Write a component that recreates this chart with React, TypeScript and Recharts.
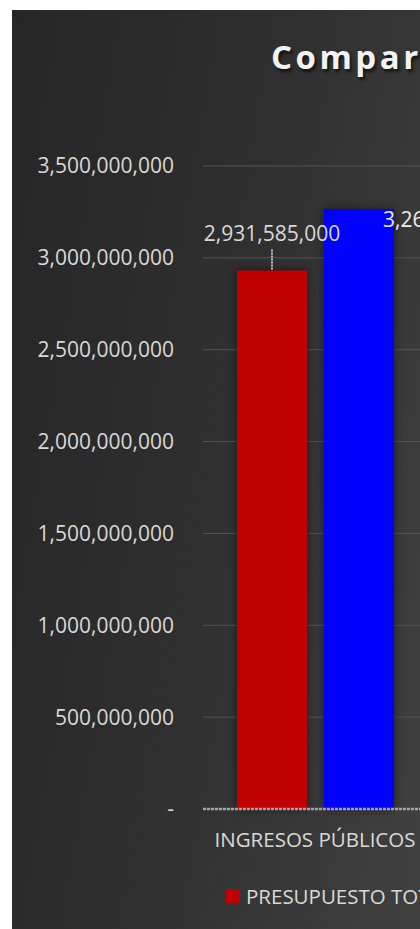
import React from 'react';
import { BarChart, Bar, XAxis, YAxis, CartesianGrid, Legend, LabelList } from 'recharts';

const categories = ['INGRESOS PÚBLICOS'];
const presupuestoTotal = [2931585000];
const ejecutado = [3264000000];
const yTicks = [0, 500000000, 1000000000, 1500000000, 2000000000, 2500000000, 3000000000, 3500000000];
const seriesNames = ['PRESUPUESTO TOTAL', 'EJECUTADO'];
const seriesColors = ['#c00000', '#0000ff'];

const data = categories.map((c, i) => ({
  category: c,
  presupuesto: presupuestoTotal[i],
  ejecutado: ejecutado[i],
}));

const FONT = '"Open Sans", sans-serif';
const fmt = (v: number) => (v === 0 ? '-' : v.toLocaleString('en-US'));

const RedLabel = (props: any) => {
  const { x, y, width, value } = props;
  const cx = x + width / 2;
  return (
    <g>
      <line x1={cx} x2={cx} y1={y - 21} y2={y} stroke="#bfbfbf" strokeWidth={2} strokeDasharray="2 1" />
      <text x={cx} y={y - 37} textAnchor="middle" dominantBaseline="central" fill="#d9d9d9" fontSize={21} fontFamily={FONT}>
        {fmt(value)}
      </text>
    </g>
  );
};

const BlueLabel = (props: any) => {
  const { x, y, width, value } = props;
  return (
    <text x={x + width - 11} y={y + 10} textAnchor="start" dominantBaseline="central" fill="#ececec" fontSize={21} fontFamily={FONT}>
      {fmt(value)}
    </text>
  );
};

const LegendContent = () => (
  <div style={{ display: 'flex', alignItems: 'center', fontFamily: FONT, fontSize: 20.5, color: '#d9d9d9', whiteSpace: 'nowrap' }}>
    {seriesNames.map((n, i) => (
      <div key={n} style={{ display: 'flex', alignItems: 'center', marginRight: 20 }}>
        <span style={{ display: 'inline-block', width: 14, height: 14, background: seriesColors[i], marginRight: 6 }} />
        <span>{n}</span>
      </div>
    ))}
  </div>
);

export default function App() {
  return (
    <div
      style={{
        position: 'absolute',
        left: 12,
        top: 10,
        width: 408,
        height: 919,
        overflow: 'hidden',
        background: 'linear-gradient(100deg, #262626 0%, #2e2e2e 45%, #404040 100%)',
      }}
    >
      <div
        style={{
          position: 'absolute',
          left: 259,
          top: 24,
          fontFamily: FONT,
          fontWeight: 700,
          fontSize: 33,
          lineHeight: 'normal',
          letterSpacing: 3.5,
          color: '#f2f2f2',
          whiteSpace: 'nowrap',
          textShadow: '2px 3px 3px rgba(0,0,0,0.6)',
        }}
      >
        Comparativo
      </div>
      <BarChart
        width={460}
        height={919}
        data={data}
        margin={{ top: 156, right: 45, left: 0, bottom: 32 }}
        barCategoryGap={33}
        barGap={17}
      >
        <CartesianGrid vertical={false} stroke="#555555" strokeWidth={1} />
        <XAxis
          dataKey="category"
          height={60}
          tickLine={false}
          tickSize={0}
          tickMargin={23}
          axisLine={{ stroke: '#a6a6a6', strokeWidth: 2.5, strokeDasharray: '3 1' }}
          tick={{ fill: '#d9d9d9', fontSize: 20.5, fontFamily: FONT }}
        />
        <YAxis
          domain={[0, 3500000000]}
          ticks={yTicks}
          tickFormatter={fmt}
          width={191}
          axisLine={false}
          tickLine={false}
          tickSize={0}
          tickMargin={29}
          tick={{ fill: '#d9d9d9', fontSize: 21, fontFamily: FONT }}
        />
        <Legend
          verticalAlign="bottom"
          content={<LegendContent />}
          wrapperStyle={{ left: 214, top: 872, bottom: 'auto', width: 'auto' }}
        />
        <Bar
          dataKey="presupuesto"
          name={seriesNames[0]}
          fill={seriesColors[0]}
          barSize={70}
          isAnimationActive={false}
          style={{ filter: 'drop-shadow(0px 0px 4px rgba(0,0,0,0.55))' }}
        >
          <LabelList dataKey="presupuesto" content={<RedLabel />} />
        </Bar>
        <Bar
          dataKey="ejecutado"
          name={seriesNames[1]}
          fill={seriesColors[1]}
          barSize={70}
          isAnimationActive={false}
          style={{ filter: 'drop-shadow(0px 0px 4px rgba(0,0,0,0.55))' }}
        >
          <LabelList dataKey="ejecutado" content={<BlueLabel />} />
        </Bar>
      </BarChart>
    </div>
  );
}
